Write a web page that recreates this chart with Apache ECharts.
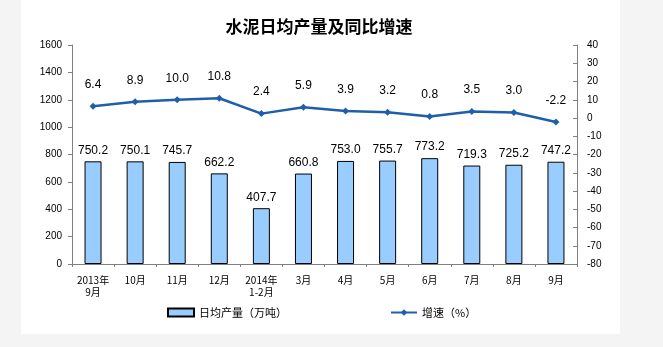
<!DOCTYPE html>
<html><head><meta charset="utf-8">
<script src="https://cdn.jsdelivr.net/npm/echarts@6/dist/echarts.min.js"></script>
<style>html,body{margin:0;padding:0;background:#f4f4f4;}#wrap{position:absolute;left:21px;top:0;width:599px;height:334px;background:#fff;}#c{position:absolute;left:0;top:0;width:663px;height:347px;}</style>
</head><body><div id="wrap"></div><div id="c"></div>
<script>
const categories = ['2013年\n9月','10月','11月','12月','2014年\n1-2月','3月','4月','5月','6月','7月','8月','9月'];
const output = [750.2,750.1,745.7,662.2,407.7,660.8,753.0,755.7,773.2,719.3,725.2,747.2];
const growth = [6.4,8.9,10.0,10.8,2.4,5.9,3.9,3.2,0.8,3.5,3.0,-2.2];
const leftTicks = {min:0,max:1600,interval:200};
const rightTicks = {min:-80,max:40,interval:10};

const chart = echarts.init(document.getElementById('c'));
const axisFont = {fontFamily:'Liberation Sans Narrow, Liberation Sans, Arial', fontSize:10, color:'#000', formatter:v=>String(v)};
chart.setOption({
  backgroundColor:'transparent',
  animation:false,
  title:{text:'水泥日均产量及同比增速',left:314,top:13,textAlign:'center',
    textStyle:{fontFamily:'Noto Sans CJK SC',fontWeight:'bold',fontSize:17,color:'#000'}},
  grid:{left:72,right:86,top:45,bottom:83},
  legend:{bottom:24,left:162,itemGap:103,itemWidth:26,itemHeight:8,
    textStyle:{fontFamily:'Noto Sans CJK SC',fontSize:11,color:'#000'},
    data:[{name:'日均产量（万吨）',icon:'rect'},{name:'增速（%）'}]},
  xAxis:{type:'category',data:categories,boundaryGap:true,
    axisLine:{lineStyle:{color:'#808080'}},
    axisTick:{show:true,length:3,lineStyle:{color:'#808080'}},
    axisLabel:{fontFamily:'Noto Sans CJK SC',fontSize:10,color:'#000',margin:10,lineHeight:12,interval:0}},
  yAxis:[
    {type:'value',min:leftTicks.min,max:leftTicks.max,interval:leftTicks.interval,
     axisLine:{show:true,lineStyle:{color:'#808080'}},axisTick:{show:true,length:4,lineStyle:{color:'#808080'}},
     splitLine:{show:false},axisLabel:Object.assign({margin:10},axisFont)},
    {type:'value',min:rightTicks.min,max:rightTicks.max,interval:rightTicks.interval,position:'right',
     axisLine:{show:true,lineStyle:{color:'#808080'}},axisTick:{show:true,inside:true,length:4,lineStyle:{color:'#808080'}},
     splitLine:{show:false},axisLabel:Object.assign({margin:10},axisFont)}
  ],
  series:[
    {name:'日均产量（万吨）',type:'bar',data:output,barWidth:17,yAxisIndex:0,
     itemStyle:{color:'#99ccff',borderColor:'#000',borderWidth:1},
     label:{show:true,position:'top',distance:5,formatter:p=>p.value.toFixed(1),
       fontFamily:'Liberation Sans, Arial',fontSize:12,color:'#000'}},
    {name:'增速（%）',type:'line',data:growth,yAxisIndex:1,symbol:'diamond',symbolSize:7,
     lineStyle:{color:'#1f5faa',width:2.5},itemStyle:{color:'#1f5faa'},
     label:{show:true,position:'top',distance:12,formatter:p=>p.value.toFixed(1),
       fontFamily:'Liberation Sans, Arial',fontSize:12,color:'#000'}}
  ]
});
</script></body></html>
